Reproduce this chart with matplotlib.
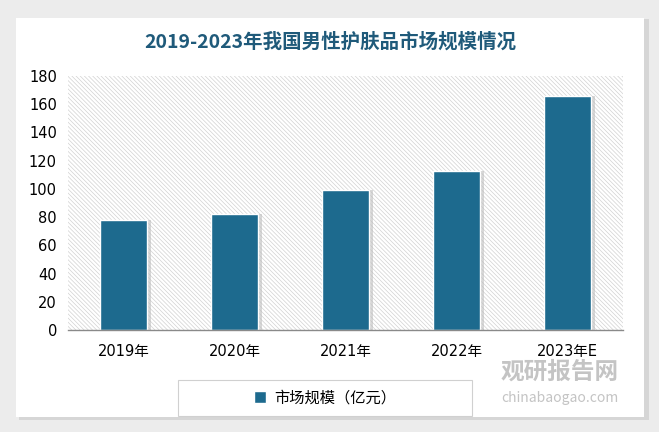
import matplotlib
matplotlib.use("Agg")
import matplotlib.pyplot as plt
from matplotlib.patches import Rectangle
import numpy as np

plt.rcParams['font.family'] = ['Noto Sans CJK SC', 'DejaVu Sans']
plt.rcParams['hatch.linewidth'] = 0.5

categories = ["2019年", "2020年", "2021年", "2022年", "2023年E"]
values = [78, 82, 99, 113, 166]
series_name = "市场规模（亿元）"
title = "2019-2023年我国男性护肤品市场规模情况"
yticks = [0, 20, 40, 60, 80, 100, 120, 140, 160, 180]

bar_color = "#1d6a8e"
title_color = "#1f5a7a"

fig = plt.figure(figsize=(6.59, 4.32), dpi=100)
fig.patch.set_facecolor("#ececec")

# card with shadow
fig.patches.append(Rectangle((19/659, 12/432), 630/659, 401/432, transform=fig.transFigure,
                             facecolor="#d6d6d6", edgecolor="none", zorder=0))
fig.patches.append(Rectangle((16/659, 15/432), 628/659, 399/432, transform=fig.transFigure,
                             facecolor="white", edgecolor="none", zorder=0))

ax = fig.add_axes([68/659, (432-330)/432, 555/659, 254/432])
ax.set_zorder(5)
ax.set_facecolor("white")
x = np.arange(len(categories))
ax.set_xlim(-0.5, len(categories) - 0.5)
ax.set_ylim(0, 180)

# hatched background
ax.add_patch(Rectangle((0, 0), 1, 1, transform=ax.transAxes, facecolor="white",
                       edgecolor="#d2d2d2", hatch="\\\\\\\\\\\\\\\\", linewidth=0, zorder=0))

w = 0.43
# shadows
ax.bar(x + 0.03, values, width=w, color="#bdbdbd", alpha=0.6, zorder=1, linewidth=0)
ax.bar(x, values, width=w, color=bar_color, edgecolor="white", linewidth=1.0, zorder=2,
       label=series_name)

ax.set_yticks(yticks)
ax.set_yticklabels([str(v) for v in yticks], fontsize=10.5, family=['DejaVu Sans'])
ax.set_xticks(x)
ax.set_xticklabels(categories, fontsize=10.5, family=['DejaVu Sans', 'Noto Sans CJK SC'])
ax.tick_params(axis='y', length=0, pad=8)
ax.tick_params(axis='x', length=0, pad=10)
for s in ["top", "right", "left"]:
    ax.spines[s].set_visible(False)
ax.spines["bottom"].set_color("#8a8a8a")
ax.spines["bottom"].set_linewidth(1.0)
ax.spines["bottom"].set_zorder(3)

fig.text(330/659, 1 - 42/432, title, ha="center", va="center", fontsize=14,
         color=title_color, fontweight="bold")

# legend box
fig.patches.append(Rectangle((178/659, 1 - 416/432), 294/659, 36/432, transform=fig.transFigure,
                             facecolor="white", edgecolor="#d0d0d0", linewidth=0.8, zorder=2))
handles, labels = ax.get_legend_handles_labels()
leg = fig.legend(handles, labels, loc="center", bbox_to_anchor=(325/659, 1 - 398/432),
                 frameon=False, fontsize=11, handlelength=0.8, handleheight=0.8,
                 handletextpad=0.5)
leg.set_zorder(6)

# watermark
fig.text(560/659, 1 - 372/432, "观研报告网", ha="center", va="center", fontsize=17,
         color="#b0b0b0", fontweight="bold", alpha=0.75, zorder=7)
fig.text(560/659, 1 - 398/432, "chinabaogao.com", ha="center", va="center", fontsize=10,
         color="#b0b0b0", alpha=0.75, zorder=7)

fig.savefig("out.png", dpi=100, facecolor=fig.get_facecolor())
